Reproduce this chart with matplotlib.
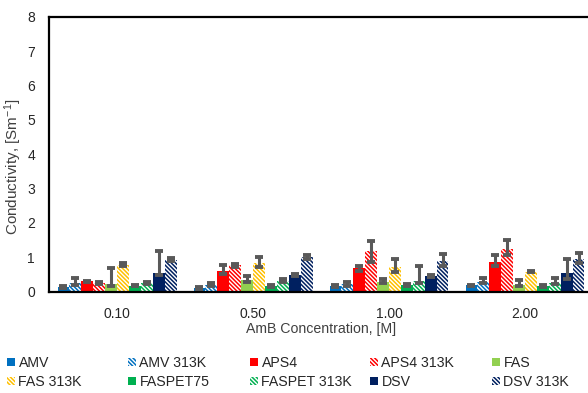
import numpy as np
import matplotlib
matplotlib.use("Agg")
import matplotlib.pyplot as plt
from matplotlib.patches import Patch

plt.rcParams['font.family'] = ['Liberation Sans', 'DejaVu Sans']
plt.rcParams['mathtext.default'] = 'regular'
plt.rcParams['hatch.linewidth'] = 1.1

concentrations = ["0.10", "0.50", "1.00", "2.00"]
series_names = ["AMV", "AMV 313K", "APS4", "APS4 313K", "FAS",
                "FAS 313K", "FASPET75", "FASPET 313K", "DSV", "DSV 313K"]

# conductivity per series at 0.10, 0.50, 1.00, 2.00 M
amv = [0.13, 0.10, 0.16, 0.18]
amv_313 = [0.26, 0.19, 0.22, 0.29]
aps4 = [0.30, 0.60, 0.68, 0.86]
aps4_313 = [0.25, 0.76, 1.17, 1.25]
fas = [0.22, 0.34, 0.29, 0.19]
fas_313 = [0.78, 0.83, 0.70, 0.58]
faspet75 = [0.17, 0.16, 0.19, 0.16]
faspet_313 = [0.24, 0.31, 0.30, 0.26]
dsv = [0.54, 0.48, 0.45, 0.53]
dsv_313 = [0.92, 1.00, 0.89, 0.94]

# error bar ends (lower, upper)
amv_lo = [0.11, 0.08, 0.14, 0.16]
amv_hi = [0.16, 0.13, 0.18, 0.20]
amv_313_lo = [0.20, 0.16, 0.16, 0.26]
amv_313_hi = [0.38, 0.26, 0.29, 0.38]
aps4_lo = [0.27, 0.51, 0.61, 0.75]
aps4_hi = [0.32, 0.77, 0.75, 1.07]
aps4_313_lo = [0.22, 0.72, 0.85, 1.07]
aps4_313_hi = [0.28, 0.80, 1.48, 1.50]
fas_lo = [0.16, 0.27, 0.24, 0.15]
fas_hi = [0.68, 0.44, 0.37, 0.34]
fas_313_lo = [0.75, 0.70, 0.56, 0.56]
fas_313_hi = [0.83, 1.02, 0.94, 0.61]
faspet75_lo = [0.15, 0.14, 0.17, 0.14]
faspet75_hi = [0.19, 0.18, 0.21, 0.18]
faspet_313_lo = [0.21, 0.27, 0.24, 0.22]
faspet_313_hi = [0.29, 0.37, 0.75, 0.39]
dsv_lo = [0.49, 0.45, 0.42, 0.37]
dsv_hi = [1.17, 0.51, 0.48, 0.94]
dsv_313_lo = [0.88, 0.96, 0.75, 0.83]
dsv_313_hi = [0.99, 1.07, 1.10, 1.12]

values = [amv, amv_313, aps4, aps4_313, fas, fas_313, faspet75, faspet_313, dsv, dsv_313]
lows = [amv_lo, amv_313_lo, aps4_lo, aps4_313_lo, fas_lo, fas_313_lo,
        faspet75_lo, faspet_313_lo, dsv_lo, dsv_313_lo]
highs = [amv_hi, amv_313_hi, aps4_hi, aps4_313_hi, fas_hi, fas_313_hi,
         faspet75_hi, faspet_313_hi, dsv_hi, dsv_313_hi]

colors = ["#0070C0", "#0070C0", "#FF0000", "#FF0000", "#92D050",
          "#FFC000", "#00B050", "#00B050", "#002060", "#002060"]
hatched = [False, True, False, True, False, True, False, True, False, True]
HATCH = '\\' * 8

fig = plt.figure(figsize=(5.88, 3.93), dpi=100)
W, H = 588, 393
# plot area runs slightly past the right edge of the canvas
ax = fig.add_axes([49 / W, (H - 291.5) / H, 544 / W, (291.5 - 17) / H])

x = np.arange(len(concentrations))
bw = 0.0875
for j, (name, vals, lo, hi, col, hat) in enumerate(
        zip(series_names, values, lows, highs, colors, hatched)):
    pos = x + (j - 4.5) * bw
    vals = np.array(vals)
    if hat:
        ax.bar(pos, vals, width=bw, facecolor="white", edgecolor=col,
               hatch=HATCH, linewidth=0, zorder=2)
    else:
        ax.bar(pos, vals, width=bw, color=col, linewidth=0, zorder=2)
    yerr = [vals - np.array(lo), np.array(hi) - vals]
    ax.errorbar(pos, vals, yerr=yerr, fmt="none", ecolor="#595959",
                elinewidth=2.2, capsize=2.6, capthick=2.8, zorder=3)

ax.set_xlim(-0.5, 3.5)
ax.set_ylim(0, 8)
ax.set_yticks(range(0, 9))
ax.set_xticks(x)
ax.set_xticklabels(concentrations)
ax.tick_params(axis="both", length=0, labelsize=10, colors="#262626")
ax.tick_params(axis="x", pad=11)
ax.tick_params(axis="y", pad=10)
for s in ["left", "bottom", "top"]:
    ax.spines[s].set_linewidth(1.6)
    ax.spines[s].set_color("black")
ax.spines["right"].set_visible(False)

ax.set_ylabel("Conductivity, [Sm$^{-1}$]", fontsize=11, color="#404040")
ax.yaxis.set_label_coords((24 - 49) / 544, (291.5 - 167) / 274.5)
ax.set_xlabel("AmB Concentration, [M]", fontsize=10.2, color="#404040")
ax.xaxis.set_label_coords(0.5, (291.5 - 322) / 274.5)

# legend laid out in five equal columns of two rows
col_x = [7, 128, 250, 370, 492]
for c in range(5):
    handles = []
    for idx in (c, c + 5):
        col, hat, name = colors[idx], hatched[idx], series_names[idx]
        if hat:
            handles.append(Patch(facecolor="white", edgecolor=col, hatch=HATCH,
                                 linewidth=0, label=name))
        else:
            handles.append(Patch(facecolor=col, linewidth=0, label=name))
    fig.legend(handles=handles, loc="center left",
               bbox_to_anchor=(col_x[c] / W, (H - 372.5) / H),
               frameon=False, fontsize=10.2, handlelength=0.56,
               handleheight=0.56, handletextpad=0.25, borderpad=0,
               borderaxespad=0, labelspacing=0.33, labelcolor="#262626")

fig.savefig("out.png", dpi=100)
